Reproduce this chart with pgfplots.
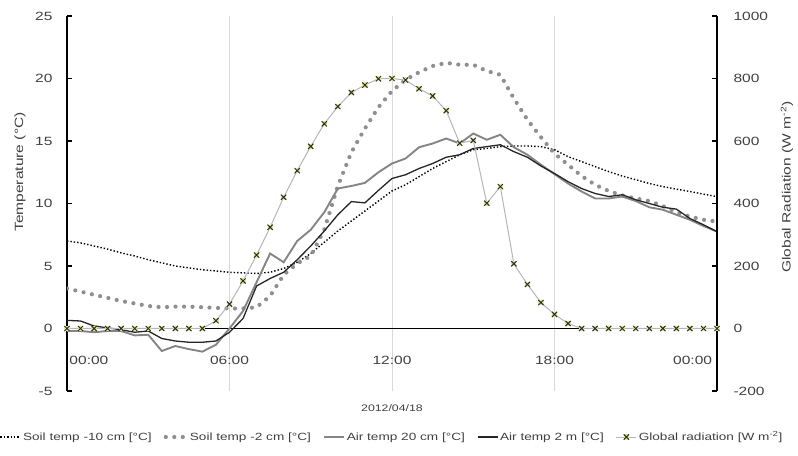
\documentclass[border=0pt]{standalone}
\usepackage{fontspec}
\setmainfont{Liberation Sans}[FakeStretch=1.3]
\usepackage{pgfplots}
\pgfplotsset{compat=1.18}
\usepackage{pgfplotstable}

\definecolor{txt}{HTML}{404040}
\definecolor{airg}{HTML}{858585}
\definecolor{soilg}{HTML}{8F8F8F}
\definecolor{radline}{HTML}{B5B5B5}
\definecolor{radfill}{HTML}{E2E6A8}
\definecolor{radmark}{HTML}{2E2E1A}
\definecolor{gridc}{HTML}{D9D9D9}

\pgfdeclareplotmark{radx}{%
  \pgfsetfillcolor{radfill}%
  \pgfpathrectangle{\pgfpoint{-\pgfplotmarksize}{-\pgfplotmarksize}}{\pgfpoint{2\pgfplotmarksize}{2\pgfplotmarksize}}%
  \pgfusepath{fill}%
  \pgfpathmoveto{\pgfpoint{-\pgfplotmarksize}{-\pgfplotmarksize}}%
  \pgfpathlineto{\pgfpoint{\pgfplotmarksize}{\pgfplotmarksize}}%
  \pgfpathmoveto{\pgfpoint{-\pgfplotmarksize}{\pgfplotmarksize}}%
  \pgfpathlineto{\pgfpoint{\pgfplotmarksize}{-\pgfplotmarksize}}%
  \pgfusepath{stroke}}

\pgfplotstableread{
t    s10   s2    a20   a2    rad
0.0  7.0   3.2   -0.2  0.65  0
0.5  6.85  2.95  -0.2  0.6   0
1.0  6.6   2.7   -0.3  0.2   0
1.5  6.35  2.45  -0.2  0.05  0
2.0  6.05  2.2   -0.2  -0.1  0
2.5  5.8   2.0   -0.55 -0.3  0
3.0  5.5   1.8   -0.5  -0.2  0
3.5  5.25  1.7   -1.8  -0.8  0
4.0  5.0   1.75  -1.4  -1.0  0
4.5  4.85  1.75  -1.65 -1.1  0
5.0  4.7   1.7   -1.85 -1.1  0
5.5  4.6   1.65  -1.3  -1.0  25
6.0  4.5   1.6   0.0   -0.3  78
6.5  4.45  1.6   1.4   0.8   152
7.0  4.4   1.7   3.7   3.4   235
7.5  4.5   2.6   6.0   4.0   324
8.0  4.8   4.3   5.3   4.5   420
8.5  5.3   5.2   7.0   5.5   505
9.0  6.0   5.8   7.9   6.6   583
9.5  6.9   7.9   9.3   7.8   655
10.0 7.8   11.4  11.2  9.1   710
10.5 8.6   14.1  11.4  10.15 755
11.0 9.4   16.0  11.65 10.05 779
11.5 10.2  17.7  12.5  11.05 799
12.0 11.0  19.0  13.2  12.0  800
12.5 11.5  19.9  13.6  12.3  795
13.0 12.15 20.5  14.5  12.8  767
13.5 12.8  21.0  14.8  13.2  744
14.0 13.35 21.25 15.2  13.7  697
14.5 13.9  21.1  14.8  13.9  593
15.0 14.3  21.1  15.6  14.4  602
15.5 14.4  20.6  15.1  14.55 401
16.0 14.55 20.3  15.5  14.7  454
16.5 14.6  18.4  14.5  14.15 207
17.0 14.6  16.7  13.9  13.7  141
17.5 14.55 15.3  13.1  13.0  83
18.0 14.3  14.0  12.35 12.4  45
18.5 13.75 13.1  11.6  11.75 16
19.0 13.35 12.2  10.96 11.2  0
19.5 12.95 11.5  10.4  10.8  0
20.0 12.55 11.0  10.4  10.56 0
20.5 12.2  10.65 10.56 10.7  0
21.0 11.9  10.4  10.2  10.3  0
21.5 11.6  10.2  9.7   10.0  0
22.0 11.35 9.8   9.5   9.7   0
22.5 11.15 9.3   9.1   9.55  0
23.0 10.96 8.95  8.7   8.8   0
23.5 10.75 8.7   8.2   8.3   0
24.0 10.55 8.55  7.75  7.75  0
}\data

\begin{document}
\begin{tikzpicture}
\useasboundingbox (-67bp,-65bp) rectangle (731bp,391bp);
\begin{axis}[
  scale only axis, width=650bp, height=375bp,
  at={(0,0)}, anchor=south west,
  clip mode=individual,
  xmin=0, xmax=24, ymin=-5, ymax=25,
  axis y line*=left, axis x line*=bottom,
  x axis line style={draw=none},
  xtick={6,12,18}, xticklabels={}, xmajorgrids,
  major x tick style={draw=none},
  major grid style={gridc, line width=0.9bp},
  ytick={-5,0,...,25},
  tick align=inside, major tick length=5bp,
  y axis line style={black, line width=1.3bp},
  major y tick style={black, line width=1.3bp},
  yticklabel style={font=\fontsize{12}{14}\selectfont, text=txt, xshift=-11bp},
  /pgf/number format/assume math mode=true,
  legend columns=5,
  legend style={draw=none, fill=none, at={(axis description cs:0.5,-0.1227)}, anchor=center,
    font=\fontsize{10.5}{12}\selectfont, text=txt,
    /tikz/every even column/.append style={column sep=10bp}},
  legend image code/.code={\draw[mark repeat=2,mark phase=2,#1] plot coordinates {(0bp,0bp) (10bp,0bp) (20bp,0bp)};},
]
\draw[black, line width=1.5bp] (axis cs:0,0) -- (axis cs:24,0);
\addplot[black, line width=1.4bp, dash pattern=on 1.4bp off 2bp] table[x=t,y=s10] {\data};
\addlegendentry{Soil temp -10 cm [°C]}
\addplot[soilg, line width=4.2bp, line cap=round, dash pattern=on 0bp off 8.5bp] table[x=t,y=s2] {\data};
\addlegendentry{Soil temp -2 cm [°C]}
\addplot[airg, line width=1.9bp] table[x=t,y=a20] {\data};
\addlegendentry{Air temp 20 cm [°C]}
\addplot[black!85, line width=1.3bp] table[x=t,y=a2] {\data};
\addlegendentry{Air temp 2 m [°C]}
\addlegendimage{radline, line width=1bp, mark=radx, mark size=2.6bp, mark options={draw=radmark, line width=1bp, solid}}
\addlegendentry{Global radiation [W m\textsuperscript{-2}]}
\node[font=\fontsize{12}{14}\selectfont, text=txt] at (axis cs:0.81,-2.55) {00:00};
\node[font=\fontsize{12}{14}\selectfont, text=txt] at (axis cs:6,-2.55) {06:00};
\node[font=\fontsize{12}{14}\selectfont, text=txt] at (axis cs:12,-2.55) {12:00};
\node[font=\fontsize{12}{14}\selectfont, text=txt] at (axis cs:18,-2.55) {18:00};
\node[font=\fontsize{12}{14}\selectfont, text=txt] at (axis cs:23.1,-2.55) {00:00};
\node[font=\fontsize{9.5}{11}\selectfont, text=txt] at (axis description cs:0.5,-0.0453) {2012/04/18};
\node[rotate=90, font=\fontsize{12}{14}\selectfont, text=txt] at (axis description cs:-0.0723,0.584) {Temperature (°C)};
\end{axis}
\begin{axis}[
  scale only axis, width=650bp, height=375bp,
  at={(0,0)}, anchor=south west,
  clip mode=individual,
  xmin=0, xmax=24, ymin=-200, ymax=1000,
  axis y line*=right, axis x line=none,
  ytick={-200,0,...,1000},
  tick align=inside, major tick length=5bp,
  y axis line style={black, line width=1.3bp},
  major y tick style={black, line width=1.3bp},
  yticklabel style={font=\fontsize{12}{14}\selectfont, text=txt, xshift=13bp},
  /pgf/number format/assume math mode=true,
  /pgf/number format/1000 sep={},
]
\addplot[radline, line width=1bp, mark=radx, mark size=2.6bp, mark options={draw=radmark, line width=1bp, solid}] table[x=t,y=rad] {\data};
\node[rotate=90, font=\fontsize{12}{14}\selectfont, text=txt] at (axis description cs:1.1077,0.544) {Global Radiation (W m\textsuperscript{-2})};
\end{axis}
\end{tikzpicture}
\end{document}
